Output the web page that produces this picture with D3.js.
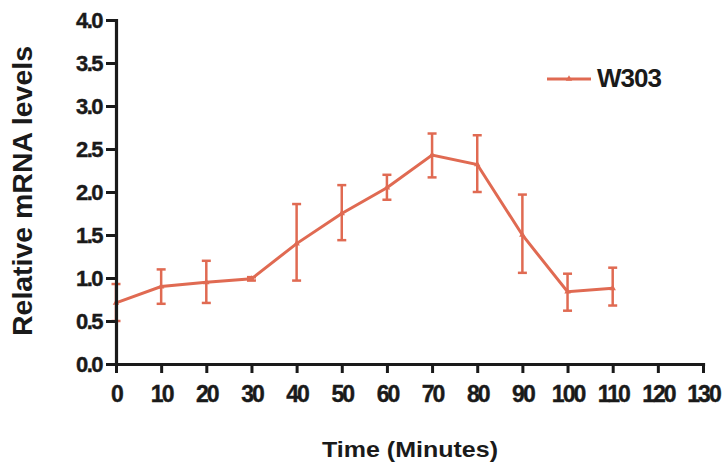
<!DOCTYPE html>
<html>
<head>
<meta charset="utf-8">
<script src="https://cdn.jsdelivr.net/npm/d3@7/dist/d3.min.js"></script>
<style>
  body { margin: 0; background: #fff; }
  text { font-family: "Liberation Sans", Arial, sans-serif; font-weight: bold; fill: #1a1a1a; }
</style>
</head>
<body>
<svg id="chart" width="728" height="476"></svg>
<script>
// time points (minutes) and W303 mean / error bar ends
const times = [0, 10, 20, 30, 40, 50, 60, 70, 80, 90, 100, 110];
const means = [0.71, 0.90, 0.95, 0.99, 1.40, 1.75, 2.05, 2.43, 2.32, 1.50, 0.84, 0.88];
const upper = [0.93, 1.10, 1.20, 1.01, 1.86, 2.08, 2.20, 2.68, 2.66, 1.97, 1.05, 1.12];
const lower = [0.50, 0.70, 0.71, 0.97, 0.97, 1.44, 1.91, 2.17, 2.00, 1.06, 0.62, 0.68];
const xTicks = [0, 10, 20, 30, 40, 50, 60, 70, 80, 90, 100, 110, 120, 130];
const yTicks = [0, 0.5, 1.0, 1.5, 2.0, 2.5, 3.0, 3.5, 4.0];
const seriesName = "W303";

const color = "#e06a52";
const svg = d3.select("#chart");

const x = d3.scaleLinear().domain([0, 130]).range([116, 703]);
const y = d3.scaleLinear().domain([0, 4]).range([364, 20]);

const rows = times.map((t, i) => ({t, m: means[i], hi: upper[i], lo: lower[i]}));

// data
const plot = svg.append("g");
plot.selectAll("line.err")
  .data(rows).enter().append("line")
  .attr("class", "err")
  .attr("x1", d => x(d.t)).attr("x2", d => x(d.t))
  .attr("y1", d => y(d.hi)).attr("y2", d => y(d.lo))
  .attr("stroke", color).attr("stroke-width", 2.5);
["hi", "lo"].forEach(k => {
  plot.selectAll("line.cap-" + k)
    .data(rows).enter().append("line")
    .attr("x1", d => x(d.t) - 4.5).attr("x2", d => x(d.t) + 4.5)
    .attr("y1", d => y(d[k])).attr("y2", d => y(d[k]))
    .attr("stroke", color).attr("stroke-width", 2.5);
});
plot.append("path")
  .datum(rows)
  .attr("fill", "none").attr("stroke", color).attr("stroke-width", 3)
  .attr("d", d3.line().x(d => x(d.t)).y(d => y(d.m)));
const tri = d3.symbol().type(d3.symbolTriangle).size(18);
plot.selectAll("path.pt")
  .data(rows).enter().append("path")
  .attr("class", "pt")
  .attr("transform", d => `translate(${x(d.t)},${y(d.m)})`)
  .attr("d", tri).attr("fill", color);

// axes
const xAxis = svg.append("g")
  .attr("transform", `translate(0,${y(0)})`)
  .call(d3.axisBottom(x).tickValues(xTicks).tickFormat(d3.format("d")).tickSize(9).tickPadding(13).tickSizeOuter(0));
const yAxis = svg.append("g")
  .attr("transform", `translate(${x(0)},0)`)
  .call(d3.axisLeft(y).tickValues(yTicks).tickFormat(d3.format(".1f")).tickSize(10).tickPadding(4).tickSizeOuter(0));
[xAxis, yAxis].forEach(g => {
  g.select(".domain").attr("stroke", "#1a1a1a").attr("stroke-width", 3.2).attr("stroke-linecap", "square");
  g.selectAll(".tick line").attr("stroke", "#1a1a1a").attr("stroke-width", 3);
  g.selectAll(".tick text").attr("fill", "#1a1a1a")
    .attr("stroke", "#1a1a1a").attr("stroke-width", 0.4);
});
xAxis.selectAll(".tick text").attr("font-size", 23).style("letter-spacing", "-2px");
yAxis.selectAll(".tick text").attr("font-size", 22).style("letter-spacing", "-1.5px");

// titles
svg.append("text")
  .attr("transform", "translate(32,191) rotate(-90)")
  .attr("text-anchor", "middle")
  .attr("textLength", 290).attr("lengthAdjust", "spacingAndGlyphs")
  .style("font-size", "27px")
  .text("Relative mRNA levels");
svg.append("text")
  .attr("x", 322).attr("y", 457)
  .attr("textLength", 176).attr("lengthAdjust", "spacingAndGlyphs")
  .style("font-size", "22px")
  .text("Time (Minutes)");

// legend
const lg = svg.append("g");
lg.append("line")
  .attr("x1", 547).attr("x2", 591).attr("y1", 79).attr("y2", 79)
  .attr("stroke", color).attr("stroke-width", 3);
lg.append("path")
  .attr("transform", "translate(569,79)")
  .attr("d", tri).attr("fill", color);
lg.append("text")
  .attr("x", 597).attr("y", 87)
  .style("font-size", "26px").style("letter-spacing", "-1px")
  .text(seriesName);
</script>
</body>
</html>
